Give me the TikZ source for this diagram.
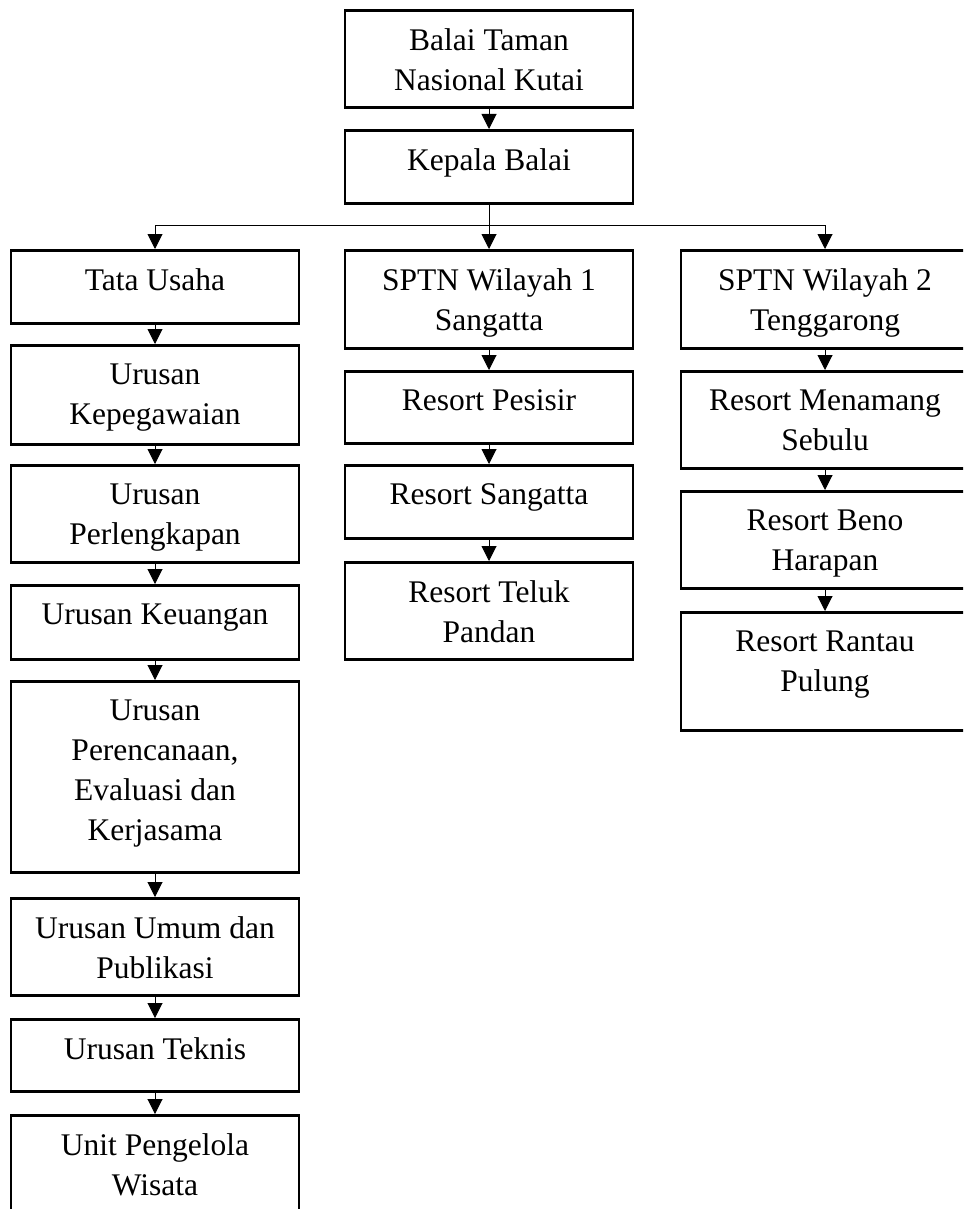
\documentclass[tikz,border=0pt]{standalone}
\usepackage{fontspec}
\setmainfont{Liberation Serif}
\usetikzlibrary{arrows.meta}

\begin{document}
\begin{tikzpicture}[x=1pt,y=-1pt,
    unit/.style={draw, line width=2.6pt, minimum width=288pt, inner sep=0pt, anchor=north},
    lbl/.style={anchor=north, yshift=-19.5pt, inner sep=0pt, align=center, font=\fontsize{31.5}{40}\selectfont},
    arr/.style={line width=1pt, -{Triangle[width=15pt,length=15pt]}}]
    \clip (0,0) rectangle (963,1209);
    \node[unit, minimum height=97pt, label={[lbl]north:Balai Taman\\Nasional Kutai}] (btn) at (489,9) {};
    \node[unit, minimum height=73pt, label={[lbl]north:Kepala Balai}] (kb) at (489,129) {};
    \node[unit, minimum height=98pt, label={[lbl]north:SPTN Wilayah 1\\Sangatta}] (sptn1) at (489,249) {};
    \node[unit, minimum height=72pt, label={[lbl]north:Resort Pesisir}] (rpes) at (489,370) {};
    \node[unit, minimum height=73pt, label={[lbl]north:Resort Sangatta}] (rsan) at (489,464) {};
    \node[unit, minimum height=97pt, label={[lbl]north:Resort Teluk\\Pandan}] (rtel) at (489,561) {};
    \node[unit, minimum height=73pt, label={[lbl]north:Tata Usaha}] (tu) at (155,249) {};
    \node[unit, minimum height=99pt, label={[lbl]north:Urusan\\Kepegawaian}] (ukep) at (155,344) {};
    \node[unit, minimum height=97pt, label={[lbl]north:Urusan\\Perlengkapan}] (uper) at (155,464) {};
    \node[unit, minimum height=74pt, label={[lbl]north:Urusan Keuangan}] (ukeu) at (155,584) {};
    \node[unit, minimum height=191pt, label={[lbl]north:Urusan\\Perencanaan,\\Evaluasi dan\\Kerjasama}] (urenc) at (155,680) {};
    \node[unit, minimum height=97pt, label={[lbl]north:Urusan Umum dan\\Publikasi}] (uumum) at (155,897) {};
    \node[unit, minimum height=72pt, label={[lbl]north:Urusan Teknis}] (utek) at (155,1018) {};
    \node[unit, minimum height=110pt, label={[lbl]north:Unit Pengelola\\Wisata}] (upw) at (155,1114) {};
    \node[unit, minimum height=98pt, label={[lbl]north:SPTN Wilayah 2\\Tenggarong}] (sptn2) at (825,249) {};
    \node[unit, minimum height=97pt, label={[lbl]north:Resort Menamang\\Sebulu}] (rmen) at (825,370) {};
    \node[unit, minimum height=97pt, label={[lbl]north:Resort Beno\\Harapan}] (rben) at (825,490) {};
    \node[unit, minimum height=118pt, label={[lbl]north:Resort Rantau\\Pulung}] (rran) at (825,611) {};
    \coordinate (split) at (489,225);
    \draw[line width=1pt] (kb.south) -- (split);
    \draw[arr] (split) -| (tu.north);
    \draw[arr] (split) -- (sptn1.north);
    \draw[arr] (split) -| (sptn2.north);
    \foreach \a/\b in {btn/kb, tu/ukep, ukep/uper, uper/ukeu, ukeu/urenc, urenc/uumum, uumum/utek, utek/upw,
        sptn1/rpes, rpes/rsan, rsan/rtel, sptn2/rmen, rmen/rben, rben/rran}
        \draw[arr] (\a.south) -- (\b.north);
\end{tikzpicture}
\end{document}
